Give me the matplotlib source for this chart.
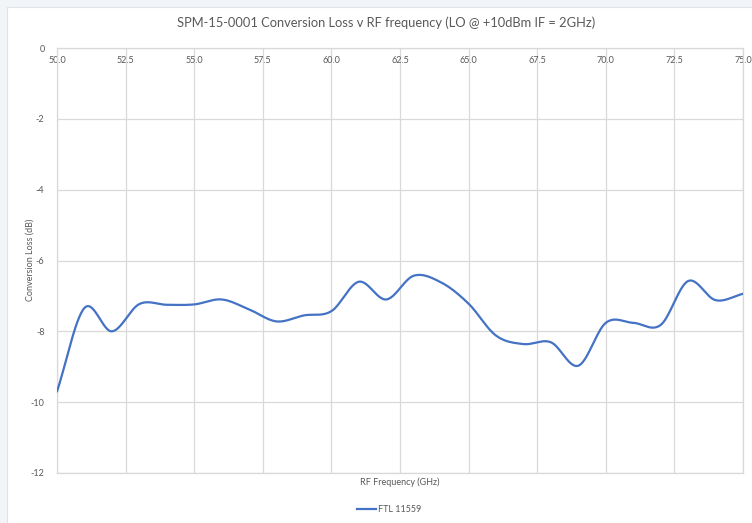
import numpy as np
import matplotlib
matplotlib.use("Agg")
import matplotlib.pyplot as plt
from matplotlib.patches import Rectangle
from matplotlib.lines import Line2D

plt.rcParams['font.family'] = ['Lato', 'DejaVu Sans']

title = "SPM-15-0001 Conversion Loss v RF frequency (LO @ +10dBm IF = 2GHz)"
series_name = "FTL 11559"
freq_ghz = [50, 51, 52, 53, 54, 55, 56, 57, 58, 59, 60, 61, 62, 63, 64, 65, 66,
            67, 68, 69, 70, 71, 72, 73, 74, 75]
loss_db = [-9.70, -7.34, -8.00, -7.23, -7.25, -7.24, -7.10, -7.38, -7.72, -7.55,
           -7.43, -6.60, -7.10, -6.43, -6.62, -7.22, -8.12, -8.36, -8.31, -8.97,
           -7.76, -7.76, -7.82, -6.58, -7.12, -6.94]
x_ticks = [50.0, 52.5, 55.0, 57.5, 60.0, 62.5, 65.0, 67.5, 70.0, 72.5, 75.0]
y_ticks = [0, -2, -4, -6, -8, -10, -12]


def catmull_rom(xs, ys, n=30):
    p = np.column_stack([xs, ys]).astype(float)
    ext = np.vstack([2 * p[0] - p[1], p, 2 * p[-1] - p[-2]])
    out = []
    t = np.linspace(0, 1, n, endpoint=False)[:, None]
    for i in range(1, len(ext) - 2):
        p0, p1, p2, p3 = ext[i - 1], ext[i], ext[i + 1], ext[i + 2]
        seg = 0.5 * ((2 * p1) + (-p0 + p2) * t + (2 * p0 - 5 * p1 + 4 * p2 - p3) * t ** 2
                     + (-p0 + 3 * p1 - 3 * p2 + p3) * t ** 3)
        out.append(seg)
    out.append(p[-1][None, :])
    out = np.vstack(out)
    return out[:, 0], out[:, 1]


W, H = 752, 523
fig = plt.figure(figsize=(W / 100, H / 100), dpi=100)
fig.patch.set_facecolor('#f2f5f7')
fig.add_artist(Rectangle((7 / W, 0), 1 - 7 / W + 0.01, 1 - 7 / H, transform=fig.transFigure,
                         facecolor='white', edgecolor='#dde3e8', lw=0.8, zorder=0))

ax = fig.add_axes([57 / W, 1 - 473 / H, (743 - 57) / W, (473 - 48) / H])
ax.set_facecolor('white')

sx, sy = catmull_rom(freq_ghz, loss_db)
ax.plot(sx, sy, color='#4472C4', lw=1.6, solid_capstyle='round', zorder=3)

ax.set_xlim(50, 75)
ax.set_ylim(-12, 0)
ax.set_xticks(x_ticks)
ax.set_xticklabels([f"{v:.1f}" for v in x_ticks])
ax.set_yticks(y_ticks)
ax.set_yticklabels([str(v) for v in y_ticks])
ax.grid(True, color='#d9d9d9', lw=0.9)
ax.set_axisbelow(True)
for s in ax.spines.values():
    s.set_color('#d9d9d9')
    s.set_linewidth(0.9)

ax.tick_params(axis='x', which='both', length=0, labeltop=True, labelbottom=False,
               top=False, bottom=False, pad=-12.5, labelsize=6.5, labelcolor='#595959')
ax.tick_params(axis='y', length=0, pad=9, labelsize=6.5, labelcolor='#595959')

fig.text(386 / W, 1 - 23 / H, title, ha='center', va='center', fontsize=9.3, color='#595959')
fig.text(30 / W, 1 - 260 / H, "Conversion Loss (dB)", rotation=90, ha='center', va='center',
         fontsize=6.5, color='#595959')
fig.text(400 / W, 1 - 482 / H, "RF Frequency (GHz)", ha='center', va='center',
         fontsize=6.5, color='#595959')

leg = fig.legend(handles=[Line2D([], [], color='#4472C4', lw=1.6)], labels=[series_name],
                 loc='center', bbox_to_anchor=(389 / W, 1 - 510 / H), frameon=False,
                 fontsize=6.5, handlelength=2.2, handletextpad=0.2, labelcolor='#595959')

fig.savefig('out.png', dpi=100, facecolor=fig.get_facecolor())
